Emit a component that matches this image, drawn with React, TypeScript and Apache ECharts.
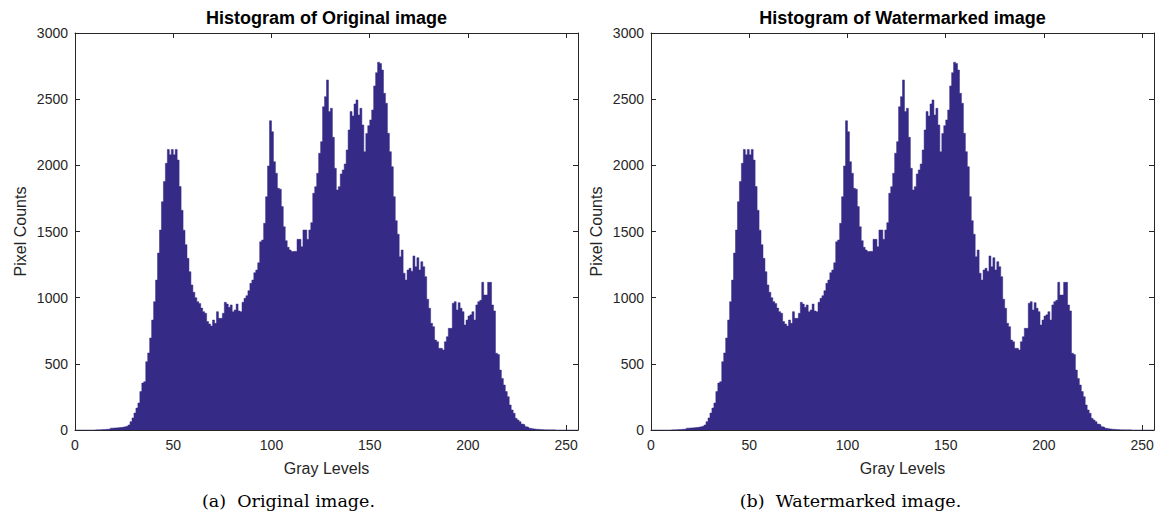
import React, { useEffect, useRef } from "react";
import * as echarts from "echarts";

const originalCounts = [
  0, 0, 0, 0, 0, 0, 0, 0, 0, 0,
  1, 2, 2, 3, 4, 5, 6, 8, 14, 15,
  16, 17, 18, 20, 22, 26, 30, 38, 63, 91,
  128, 166, 204, 290, 355, 365, 516, 582, 695, 831,
  970, 1133, 1337, 1511, 1725, 1877, 2015, 2120, 2080, 2120,
  2080, 2120, 2040, 1840, 1660, 1510, 1400, 1297, 1196, 1096,
  1040, 1000, 970, 955, 921, 894, 882, 819, 801, 786,
  831, 806, 894, 844, 844, 882, 965, 952, 927, 945,
  894, 907, 952, 900, 894, 965, 995, 1015, 1053, 1108,
  1133, 1189, 1209, 1264, 1423, 1436, 1562, 1763, 1995, 2337,
  2254, 2028, 1940, 1826, 1820, 1688, 1536, 1431, 1381, 1360,
  1348, 1350, 1348, 1441, 1441, 1385, 1511, 1511, 1441, 1511,
  1567, 1789, 1839, 1940, 2091, 2179, 2443, 2519, 2645, 2406,
  2431, 2212, 1978, 1814, 1839, 1935, 1965, 2010, 2116, 2267,
  2406, 2373, 2464, 2494, 2380, 2431, 2305, 2103, 2240, 2300,
  2343, 2418, 2600, 2700, 2779, 2770, 2720, 2544, 2469, 2242,
  2103, 1990, 1763, 1582, 1479, 1310, 1360, 1184, 1133, 1209,
  1222, 1200, 1315, 1234, 1302, 1209, 1272, 1234, 1159, 988,
  920, 806, 781, 680, 667, 617, 617, 605, 667, 705,
  768, 768, 957, 970, 907, 962, 920, 894, 793, 831,
  861, 870, 894, 831, 945, 970, 980, 1116, 1020, 1020,
  1116, 1116, 945, 900, 580, 570, 453, 390, 340, 290,
  252, 189, 151, 126, 88, 76, 63, 45, 40, 25,
  20, 13, 10, 8, 6, 5, 4, 3, 2, 2,
  1, 1, 1, 1, 0, 0, 0, 0, 0, 0,
  0, 0, 0, 0, 0, 0,
];

const watermarkedCounts = [
  0, 0, 0, 0, 0, 0, 0, 0, 0, 0,
  1, 2, 2, 3, 4, 5, 6, 8, 14, 15,
  16, 17, 18, 20, 22, 26, 30, 38, 63, 91,
  128, 166, 204, 290, 355, 365, 516, 582, 695, 831,
  970, 1133, 1337, 1511, 1725, 1877, 2015, 2120, 2080, 2120,
  2080, 2120, 2040, 1840, 1660, 1510, 1400, 1297, 1196, 1096,
  1040, 1000, 970, 955, 921, 894, 882, 819, 801, 786,
  831, 806, 894, 844, 844, 882, 965, 952, 927, 945,
  894, 907, 952, 900, 894, 965, 995, 1015, 1053, 1108,
  1133, 1189, 1209, 1264, 1423, 1436, 1562, 1763, 1995, 2337,
  2254, 2028, 1940, 1826, 1820, 1688, 1536, 1431, 1381, 1360,
  1348, 1350, 1348, 1441, 1441, 1385, 1511, 1511, 1441, 1511,
  1567, 1789, 1839, 1940, 2091, 2179, 2443, 2519, 2645, 2406,
  2431, 2212, 1978, 1814, 1839, 1935, 1965, 2010, 2116, 2267,
  2406, 2373, 2464, 2494, 2380, 2431, 2305, 2103, 2240, 2300,
  2343, 2418, 2600, 2700, 2779, 2770, 2720, 2544, 2469, 2242,
  2103, 1990, 1763, 1582, 1479, 1310, 1360, 1184, 1133, 1209,
  1222, 1200, 1315, 1234, 1302, 1209, 1272, 1234, 1159, 988,
  920, 806, 781, 680, 667, 617, 617, 605, 667, 705,
  768, 768, 957, 970, 907, 962, 920, 894, 793, 831,
  861, 870, 894, 831, 945, 970, 980, 1116, 1020, 1020,
  1116, 1116, 945, 900, 580, 570, 453, 390, 340, 290,
  252, 189, 151, 126, 88, 76, 63, 45, 40, 25,
  20, 13, 10, 8, 6, 5, 4, 3, 2, 2,
  1, 1, 1, 1, 0, 0, 0, 0, 0, 0,
  0, 0, 0, 0, 0, 0,
];

const panelTitles = ["Histogram of Original image", "Histogram of Watermarked image"];
const panelCaptions = ["(a)  Original image.", "(b)  Watermarked image."];
const xAxisName = "Gray Levels";
const yAxisName = "Pixel Counts";
const xMax = 256;
const xInterval = 50;
const yMax = 3000;
const yInterval = 500;

const BAR = "#352A86";
const AX = "#262626";
const SANS = "'Liberation Sans', Arial, Helvetica, sans-serif";
const SERIF = "'DejaVu Serif', 'Liberation Serif', serif";

const grids = [
  { left: 75, top: 33, width: 503, height: 397 },
  { left: 651, top: 33, width: 503, height: 397 },
];
const captionOffsets = [-38, -52];

export default function App() {
  const ref = useRef<HTMLDivElement>(null);

  useEffect(() => {
    document.body.style.margin = "0";
    if (!ref.current) return;
    const chart = echarts.init(ref.current, undefined, { renderer: "svg" });

    const xAxes: any[] = [];
    const yAxes: any[] = [];
    const series: any[] = [];
    const graphic: any[] = [];
    const datasets = [originalCounts, watermarkedCounts];

    grids.forEach((g, gi) => {
      const axisLine = { show: true, onZero: false, lineStyle: { color: AX, width: 1 } };
      const tick = { show: true, inside: true, length: 5, lineStyle: { color: AX, width: 1 } };
      xAxes.push({
        type: "value", gridIndex: gi, position: "bottom", min: 0, max: xMax, interval: xInterval,
        axisLine, axisTick: tick, splitLine: { show: false },
        axisLabel: { color: AX, fontSize: 14, fontFamily: SANS, margin: 8, showMaxLabel: false, formatter: (v: number) => String(v) },
      });
      xAxes.push({
        type: "value", gridIndex: gi, position: "top", min: 0, max: xMax, interval: xInterval,
        axisLine, axisTick: tick, splitLine: { show: false }, axisLabel: { show: false },
      });
      yAxes.push({
        type: "value", gridIndex: gi, position: "left", min: 0, max: yMax, interval: yInterval,
        axisLine, axisTick: tick, splitLine: { show: false },
        axisLabel: { color: AX, fontSize: 14, fontFamily: SANS, margin: 7, formatter: (v: number) => String(v) },
      });
      yAxes.push({
        type: "value", gridIndex: gi, position: "right", min: 0, max: yMax, interval: yInterval,
        axisLine, axisTick: tick, splitLine: { show: false }, axisLabel: { show: false },
      });

      const counts = datasets[gi];
      const pts = counts.map((v, i) => [i, v]);
      pts.push([counts.length, counts[counts.length - 1]]);
      series.push({
        type: "line",
        xAxisIndex: gi * 2,
        yAxisIndex: gi * 2,
        data: pts,
        step: "end",
        symbol: "none",
        lineStyle: { color: BAR, width: 0.5 },
        areaStyle: { color: BAR, opacity: 1, origin: 0 },
        z: 1,
      });

      const cx = g.left + g.width / 2;
      graphic.push({
        type: "text", x: cx, y: 18,
        style: { text: panelTitles[gi], fill: "#000", font: `bold 18px ${SANS}`, textAlign: "center", textVerticalAlign: "middle" },
      });
      graphic.push({
        type: "text", x: cx, y: 468,
        style: { text: xAxisName, fill: AX, font: `16px ${SANS}`, textAlign: "center", textVerticalAlign: "middle" },
      });
      graphic.push({
        type: "text", x: g.left - 55, y: g.top + g.height / 2, rotation: Math.PI / 2,
        style: { text: yAxisName, fill: AX, font: `16px ${SANS}`, textAlign: "center", textVerticalAlign: "middle" },
      });
      graphic.push({
        type: "text", x: cx + captionOffsets[gi], y: 501,
        style: { text: panelCaptions[gi], fill: "#000", font: `17.5px ${SERIF}`, textAlign: "center", textVerticalAlign: "middle" },
      });
    });

    chart.setOption({
      animation: false,
      backgroundColor: "#fff",
      grid: grids.map((g) => ({ ...g, containLabel: false })),
      xAxis: xAxes,
      yAxis: yAxes,
      series,
      graphic,
    });

    return () => chart.dispose();
  }, []);

  return <div ref={ref} style={{ width: 1161, height: 520 }} />;
}
